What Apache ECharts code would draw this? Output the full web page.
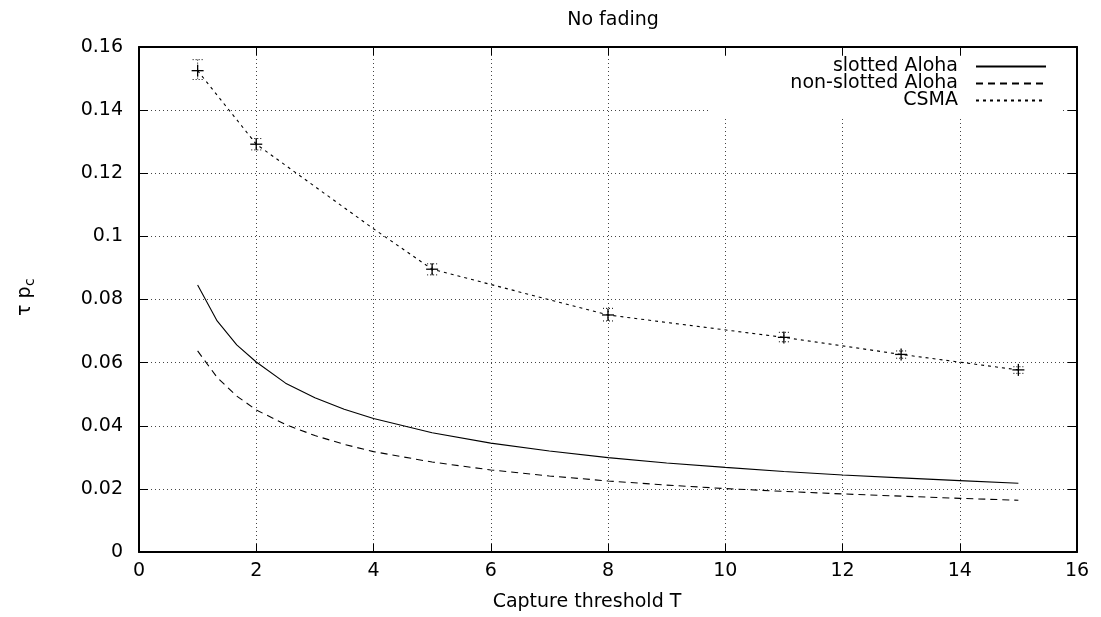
<!DOCTYPE html>
<html>
<head>
<meta charset="utf-8">
<script src="https://cdn.jsdelivr.net/npm/echarts@6/dist/echarts.min.js"></script>
<style>
html,body{margin:0;padding:0;background:#fff;}
#chart{width:1101px;height:617px;}
</style>
</head>
<body>
<div id="chart"></div>
<script>
// ---- data ----
const xTicks = [0, 2, 4, 6, 8, 10, 12, 14, 16];
const yTicks = [0, 0.02, 0.04, 0.06, 0.08, 0.1, 0.12, 0.14, 0.16];

const alohaX = [1, 1.333, 1.667, 2, 2.5, 3, 3.5, 4, 5, 6, 7, 8, 9, 10, 11, 12, 13, 14, 15];
const slottedAloha = [0.0846, 0.0732, 0.0656, 0.0602, 0.0535, 0.0489, 0.0452, 0.0423, 0.0378, 0.0345, 0.0320, 0.0299, 0.0282, 0.0268, 0.0255, 0.0244, 0.0235, 0.0226, 0.0218];
const nonSlottedAloha = [0.0637, 0.0553, 0.0494, 0.0450, 0.0404, 0.0369, 0.0341, 0.0318, 0.0285, 0.0260, 0.0241, 0.0225, 0.0212, 0.0201, 0.0192, 0.0184, 0.0177, 0.0170, 0.0164];

const csmaLineX = [1, 2, 3, 4, 5, 8, 11, 13, 15];
const csmaLine = [0.1525, 0.1292, 0.1158, 0.1024, 0.0896, 0.0751, 0.0680, 0.0626, 0.0577];

const csmaSimX = [1, 2, 5, 8, 11, 13, 15];
const csmaSim = [0.1525, 0.1292, 0.0896, 0.0751, 0.0680, 0.0626, 0.0577];
const csmaLow = [0.1497, 0.1274, 0.0878, 0.0732, 0.0666, 0.0614, 0.0566];
const csmaHigh = [0.1560, 0.1310, 0.0913, 0.0772, 0.0696, 0.0637, 0.0587];

const FONT = 'DejaVu Sans';

function pairs(xs, ys) { return xs.map((x, i) => [x, ys[i]]); }

const chart = echarts.init(document.getElementById('chart'), null, {renderer: 'canvas'});

const axisLineStyle = {color: '#000', width: 2};
const gridLineStyle = {color: '#444', width: 1, type: [1, 3]};

const option = {
  backgroundColor: '#fff',
  animation: false,
  title: {
    text: 'No fading',
    left: 608, top: 6, textAlign: 'center',
    textStyle: {fontFamily: FONT, fontSize: 19, fontWeight: 'normal', color: '#000'}
  },
  grid: {left: 139, right: 24, top: 47, bottom: 65, containLabel: false, outerBoundsMode: 'none'},
  legend: {
    orient: 'vertical', right: 40, top: 56, align: 'right',
    backgroundColor: '#fff',
    padding: [1, 14, 6, 50],
    itemGap: -2, itemWidth: 70, itemHeight: 10,
    data: ['slotted Aloha', 'non-slotted Aloha', 'CSMA'],
    itemStyle: {color: 'rgba(0,0,0,0)', borderWidth: 0, opacity: 0},
    textStyle: {fontFamily: FONT, fontSize: 19, color: '#000', lineHeight: 17, height: 17, width: 200, align: 'right', padding: [0, 13, 0, 0]}
  },
  xAxis: [{
    type: 'value', min: 0, max: 16, interval: 2, position: 'bottom',
    name: 'Capture threshold T', nameLocation: 'middle', nameGap: 41,
    nameTextStyle: {fontFamily: FONT, fontSize: 19, color: '#000', padding: [0, 42, 0, 0]},
    axisLine: {show: true, onZero: false, lineStyle: axisLineStyle},
    axisTick: {show: true, inside: true, length: 8, lineStyle: {color: '#000', width: 1}},
    axisLabel: {fontFamily: FONT, fontSize: 19, color: '#000', margin: 10,
      formatter: v => String(v)},
    splitLine: {show: true, lineStyle: gridLineStyle}
  }, {
    type: 'value', min: 0, max: 16, interval: 2, position: 'top',
    axisLine: {show: true, onZero: false, lineStyle: axisLineStyle},
    axisTick: {show: true, inside: true, length: 8, lineStyle: {color: '#000', width: 1}},
    axisLabel: {show: false}, splitLine: {show: false}
  }],
  yAxis: [{
    type: 'value', min: 0, max: 0.16, interval: 0.02, position: 'left',
    axisLine: {show: true, onZero: false, lineStyle: axisLineStyle},
    axisTick: {show: true, inside: true, length: 9, lineStyle: {color: '#000', width: 1}},
    axisLabel: {fontFamily: FONT, fontSize: 19, color: '#000', margin: 16,
      formatter: v => String(+v.toFixed(2))},
    splitLine: {show: true, lineStyle: gridLineStyle}
  }, {
    type: 'value', min: 0, max: 0.16, interval: 0.02, position: 'right',
    axisLine: {show: true, onZero: false, lineStyle: axisLineStyle},
    axisTick: {show: true, inside: true, length: 9, lineStyle: {color: '#000', width: 1}},
    axisLabel: {show: false}, splitLine: {show: false}
  }],
  graphic: [{
    type: 'group', x: 25, y: 298, rotation: Math.PI / 2,
    children: [
      {type: 'text', x: -18, y: 0, style: {text: 'τ p', fontFamily: FONT, fontSize: 19, fill: '#000', verticalAlign: 'middle', align: 'left'}},
      {type: 'text', x: 12, y: 5, style: {text: 'c', fontFamily: FONT, fontSize: 14, fill: '#000', verticalAlign: 'middle', align: 'left'}}
    ]
  }],
  series: [{
    name: 'slotted Aloha', type: 'line', symbol: 'none', xAxisIndex: 0, yAxisIndex: 0,
    lineStyle: {color: '#000', width: 1.1, type: 'solid'},
    itemStyle: {color: '#000'},
    data: pairs(alohaX, slottedAloha), z: 3
  }, {
    name: 'non-slotted Aloha', type: 'line', symbol: 'none',
    lineStyle: {color: '#000', width: 1.1, type: [7, 5]},
    itemStyle: {color: '#000'},
    data: pairs(alohaX, nonSlottedAloha), z: 3
  }, {
    name: 'CSMA', type: 'line', symbol: 'none',
    lineStyle: {color: '#000', width: 1.1, type: [3, 4]},
    itemStyle: {color: '#000'},
    data: pairs(csmaLineX, csmaLine), z: 3
  }, {
    name: 'CSMA sim', type: 'custom', z: 4,
    data: csmaSimX.map((x, i) => [x, csmaSim[i], csmaLow[i], csmaHigh[i]]),
    encode: {x: 0, y: 1},
    renderItem: function (params, api) {
      const c = api.coord([api.value(0), api.value(1)]);
      const lo = api.coord([api.value(0), api.value(2)]);
      const hi = api.coord([api.value(0), api.value(3)]);
      const dot = {stroke: '#000', lineWidth: 1, lineDash: [1, 2]};
      const solid = {stroke: '#000', lineWidth: 1.3};
      return {
        type: 'group',
        children: [
          {type: 'line', shape: {x1: c[0], y1: hi[1], x2: c[0], y2: lo[1]}, style: dot},
          {type: 'line', shape: {x1: c[0] - 5, y1: hi[1], x2: c[0] + 5, y2: hi[1]}, style: dot},
          {type: 'line', shape: {x1: c[0] - 5, y1: lo[1], x2: c[0] + 5, y2: lo[1]}, style: dot},
          {type: 'line', shape: {x1: c[0] - 6, y1: c[1], x2: c[0] + 6, y2: c[1]}, style: solid},
          {type: 'line', shape: {x1: c[0], y1: c[1] - 6, x2: c[0], y2: c[1] + 6}, style: solid}
        ]
      };
    }
  }]
};
chart.setOption(option);
</script>
</body>
</html>
